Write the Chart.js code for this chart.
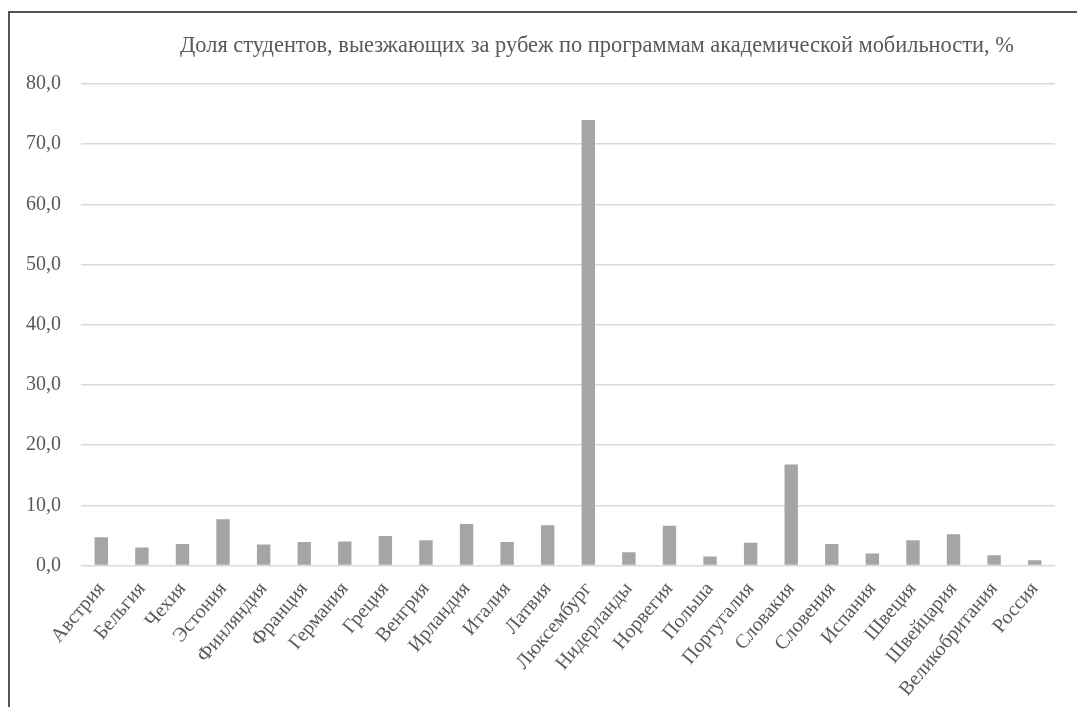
<!DOCTYPE html>
<html>
<head>
<meta charset="utf-8">
<script src="https://cdn.jsdelivr.net/npm/chart.js@4/dist/chart.umd.min.js"></script>
<style>
    html, body { margin: 0; padding: 0; background: #fff; }
    #wrap { position: relative; width: 1077px; height: 707px; overflow: hidden; }
    #frame { position: absolute; left: 8px; top: 11px; right: -5px; bottom: -5px;
        border-top: 2px solid #555; border-left: 2px solid #555; pointer-events: none; }
    #title { position: absolute; left: 597px; top: 32px; transform: translateX(-50%);
        white-space: nowrap; font: 22.4px "Liberation Serif", serif; color: #595959; }
    canvas { position: absolute; left: 0; top: 0; }
</style>
</head>
<body>
<div id="wrap">
    <canvas id="myChart" width="1077" height="707"></canvas>
    <div id="frame"></div>
    <div id="title">Доля студентов, выезжающих за рубеж по программам академической мобильности, %</div>
</div>
<script>
// страны
var countries = [
    'Австрия', 'Бельгия', 'Чехия', 'Эстония', 'Финляндия', 'Франция',
    'Германия', 'Греция', 'Венгрия', 'Ирландия', 'Италия', 'Латвия',
    'Люксембург', 'Нидерланды', 'Норвегия', 'Польша', 'Португалия', 'Словакия',
    'Словения', 'Испания', 'Швеция', 'Швейцария', 'Великобритания', 'Россия'
];
// доля студентов, %
var shares = [
    4.7, 3.0, 3.6, 7.7, 3.5, 3.9,
    4.0, 4.9, 4.2, 6.9, 3.9, 6.7,
    74.0, 2.2, 6.6, 1.5, 3.8, 16.8,
    3.6, 2.0, 4.2, 5.2, 1.7, 0.9
];
var yMin = 0, yMax = 80, yStep = 10;

var font = '"Liberation Serif", serif';
var ctx = document.getElementById('myChart').getContext('2d');
var config = {
    type: 'bar',
    data: {
        labels: countries,
        datasets: [{
            data: shares,
            backgroundColor: '#a5a5a5',
            categoryPercentage: 1,
            barPercentage: 0.33
        }]
    },
    options: {
        responsive: false,
        animation: false,
        layout: {
            padding: { left: 6, right: 22, top: 84, bottom: 2 }
        },
        plugins: {
            legend: { display: false },
            title: { display: false },
            tooltip: { enabled: false }
        },
        scales: {
            x: {
                grid: { display: false },
                border: { display: false },
                ticks: {
                    color: '#595959',
                    font: { family: font, size: 20 },
                    minRotation: 50,
                    maxRotation: 50,
                    autoSkip: false,
                    padding: 4
                }
            },
            y: {
                min: yMin,
                max: yMax,
                grid: { color: '#d9d9d9', lineWidth: 1.5, drawTicks: false },
                border: { display: false },
                ticks: {
                    stepSize: yStep,
                    color: '#595959',
                    font: { family: font, size: 20 },
                    padding: 20,
                    callback: function(v) { return v.toFixed(1).replace('.', ','); }
                }
            }
        }
    }
};
var myChart = new Chart(ctx, config);
</script>
</body>
</html>
